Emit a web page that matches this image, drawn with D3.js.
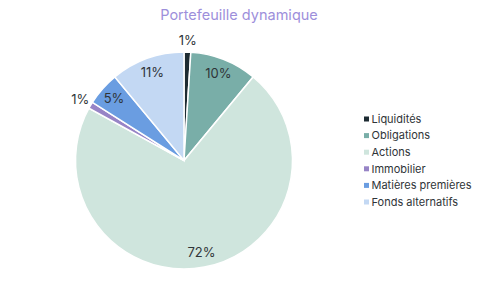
<!DOCTYPE html>
<html>
<head>
<meta charset="utf-8">
<script src="https://cdn.jsdelivr.net/npm/d3@7"></script>
<style>
  body { margin: 0; background: #fff; }
  svg { font-family: Inter, "Noto Sans", sans-serif; display: block; }
</style>
</head>
<body>
<svg id="chart"></svg>
<script>
const categories = ["Liquidités", "Obligations", "Actions", "Immobilier", "Matières premières", "Fonds alternatifs"];
const values = [1, 10, 72, 1, 5, 11];
const colors = ["#1d2b32", "#79aea8", "#cfe5dd", "#9784c6", "#6a9de1", "#c3d8f3"];

const w = 477;
const h = 297;
const cx = 184;
const cy = 160.5;
const radius = 108.5;

const svg = d3.select("#chart").attr("width", w).attr("height", h);

svg.append("text")
  .attr("x", 239)
  .attr("y", 20)
  .attr("text-anchor", "middle")
  .attr("fill", "#9d8fdb")
  .style("font-size", "14.5px")
  .text("Portefeuille dynamique");

const data = categories.map((c, i) => ({ name: c, value: values[i], color: colors[i] }));

const pie = d3.pie().sort(null).value(d => d.value);
const arcs = pie(data);
const arc = d3.arc().innerRadius(0).outerRadius(radius);
const labelArc = d3.arc().innerRadius(radius * 0.86).outerRadius(radius * 0.86);
const outerArc = d3.arc().innerRadius(radius + 12).outerRadius(radius + 12);

const g = svg.append("g").attr("transform", `translate(${cx},${cy})`);

g.selectAll("path")
  .data(arcs)
  .enter()
  .append("path")
  .attr("d", arc)
  .attr("fill", d => d.data.color)
  .attr("stroke", "#fff")
  .attr("stroke-width", 1.5);

g.selectAll("text.lbl")
  .data(arcs)
  .enter()
  .append("text")
  .attr("class", "lbl")
  .attr("transform", d => {
    const small = d.data.value < 3;
    const p = small ? outerArc.centroid(d) : labelArc.centroid(d);
    return `translate(${p[0]},${p[1]})`;
  })
  .attr("text-anchor", "middle")
  .attr("dy", "0.35em")
  .attr("fill", "#2f3438")
  .style("font-size", "13px")
  .text(d => d.data.value + "%");

const legend = svg.append("g").attr("transform", "translate(364,119)");
const rowH = 16.6;

const item = legend.selectAll("g")
  .data(data)
  .enter()
  .append("g")
  .attr("transform", (d, i) => `translate(0,${i * rowH})`);

item.append("rect")
  .attr("x", 0)
  .attr("y", -2.5)
  .attr("width", 5)
  .attr("height", 5)
  .attr("fill", d => d.color);

item.append("text")
  .attr("x", 7.5)
  .attr("dy", "0.35em")
  .attr("fill", "#2f3438")
  .style("font-size", "11px")
  .text(d => d.name);
</script>
</body>
</html>
